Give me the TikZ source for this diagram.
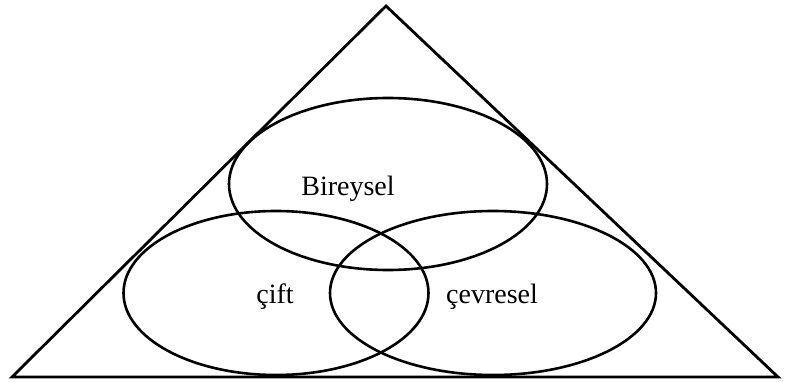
\documentclass[tikz,border=0pt]{standalone}
\usepackage{fontspec}
\setmainfont{Liberation Serif}
\usepackage{tikz}
\usetikzlibrary{shapes.geometric}
\tikzset{
  levelring/.style  = {ellipse, draw=black, line width=2.6pt, inner sep=0pt},
  levellbl/.style   = {font=\fontsize{28}{32}\selectfont, inner sep=0pt},
  outline/.style    = {draw=black, line width=2.8pt, line join=miter},
}
\begin{document}
\begin{tikzpicture}[x=1pt,y=1pt]
  \useasboundingbox (0,0) rectangle (787,381);

  \coordinate (apex) at (386,375);
  \coordinate (bl)   at (12,4);
  \coordinate (br)   at (778,4);
  \draw[outline] (apex) -- (bl) -- (br) -- cycle;

  \node[levelring, minimum width=318, minimum height=172] (ind)  at (388,197) {};
  \node[levelring, minimum width=305, minimum height=164] (pair) at (276,88)  {};
  \node[levelring, minimum width=326, minimum height=164] (env)  at (493,88)  {};

  \node[levellbl] (indl)  at (348,192) {Bireysel};
  \node[levellbl] (pairl) at (275,84)  {çift};
  \node[levellbl] (envl)  at (492,84)  {çevresel};
\end{tikzpicture}
\end{document}
